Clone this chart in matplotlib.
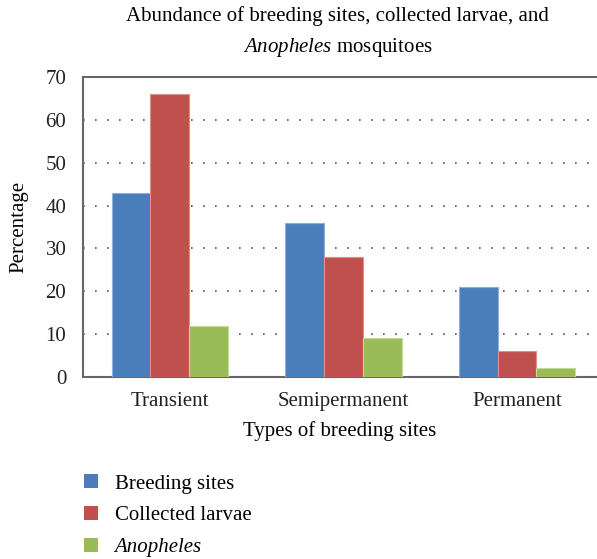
import numpy as np
import matplotlib.pyplot as plt
from matplotlib.patches import Patch

plt.rcParams['font.family'] = ['Liberation Serif', 'DejaVu Serif']
plt.rcParams['mathtext.fontset'] = 'custom'
plt.rcParams['mathtext.rm'] = 'Liberation Serif'
plt.rcParams['mathtext.it'] = 'Liberation Serif:italic'

# data
site_types = ["Transient", "Semipermanent", "Permanent"]
breeding_sites = [43, 36, 21]
collected_larvae = [66, 28, 6]
anopheles = [12, 9, 2]

series = [breeding_sites, collected_larvae, anopheles]
labels = ["Breeding sites", "Collected larvae", "Anopheles"]
colors = ["#4A7EBB", "#C0504D", "#9BBB59"]
edges = ["#8DB0DC", "#E08E8B", "#C4D99A"]

fig = plt.figure(figsize=(5.97, 5.59), dpi=100)
ax = fig.add_axes([0.139, 0.3256, 0.861, 0.5364])

x = np.arange(len(site_types))
w = 0.223
for i, (vals, c, e) in enumerate(zip(series, colors, edges)):
    ax.bar(x + (i - 1) * w, vals, w, color=c, edgecolor=e, linewidth=0.8, zorder=3)

ax.set_xlim(-0.5, 2.46)
ax.set_ylim(0, 70)
ax.set_yticks(range(0, 71, 10))
ax.set_xticks(x)
ax.set_xticklabels(site_types)
ax.tick_params(axis='both', length=0, labelsize=15, colors='#222222')
ax.tick_params(axis='x', pad=11)
ax.tick_params(axis='y', pad=12)
ax.yaxis.grid(True, linestyle=(0, (1, 6.2)), color='#555555', linewidth=1.2, zorder=0)

for s in ['left', 'top', 'bottom']:
    ax.spines[s].set_color('#666666')
    ax.spines[s].set_linewidth(1.5)
ax.spines['right'].set_visible(False)

ax.set_ylabel("Percentage", fontsize=15, labelpad=12)
ax.set_xlabel("Types of breeding sites", fontsize=15, labelpad=7)

fig.text(0.566, 0.972, "Abundance of breeding sites, collected larvae, and",
         ha='center', va='center', fontsize=15)
fig.text(0.566, 0.915, "$\\it{Anopheles}$ mosquitoes", ha='center', va='center', fontsize=15)

handles = [Patch(facecolor=c, edgecolor='none') for c in colors]
leg = fig.legend(handles, labels, loc='upper left', bbox_to_anchor=(0.11, 0.185),
                 frameon=False, fontsize=15, handlelength=0.65, handleheight=0.65,
                 handletextpad=0.8, labelspacing=0.6)
leg.get_texts()[2].set_style('italic')

fig.savefig("out.png", dpi=100)
